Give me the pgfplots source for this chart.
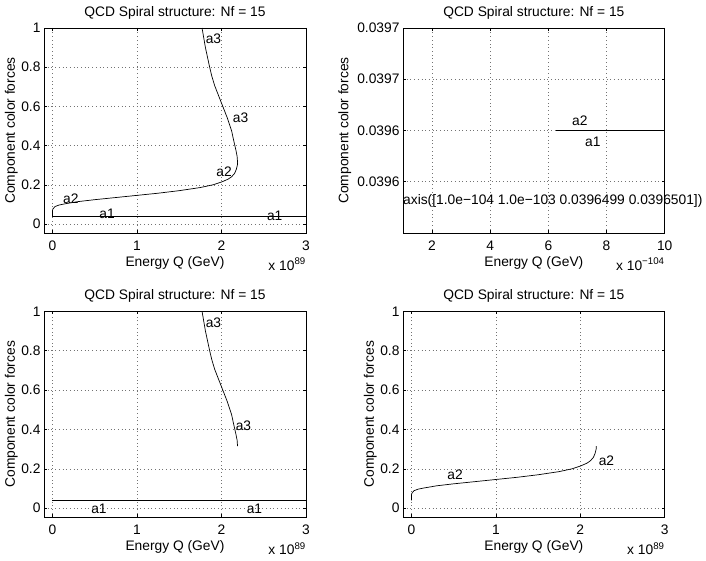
\documentclass[border=0pt]{standalone}
\usepackage{pgfplots}
\pgfplotsset{compat=1.18}
\usepackage{fontspec}
\setmainfont{Liberation Sans}

\newcommand{\fs}{\fontsize{13.8bp}{16bp}\selectfont}
\tikzset{
  scalelabel/.style={font=\fs, anchor=north east, inner sep=0pt, yshift=-25bp},
  crv/.style={black, line width=0.7bp},
}

\pgfplotsset{
  qcd/.style={
    scale only axis,
    width=262bp,
    title={QCD Spiral structure: Nf = 15},
    xlabel={Energy Q (GeV)},
    ylabel={Component color forces},
    every axis title/.style={at={(axis description cs:0.5,1)}, anchor=center, yshift=15bp, font=\fs},
    every axis x label/.style={at={(axis description cs:0.5,0)}, anchor=center, yshift=-30bp, font=\fs},
    every axis y label/.style={at={(axis description cs:-0.125,0.5)}, anchor=center, rotate=90, font=\fs},
    tick label style={font=\fs},
    xticklabel style={yshift=-4bp},
    /pgf/number format/assume math mode=true,
    grid=major,
    major grid style={black!55, line width=0.5bp, dash pattern=on 0.7bp off 3bp},
    axis line style={black, line width=0.8bp},
    tick align=inside,
    major tick length=3bp,
    every tick/.style={black, line width=0.5bp},
    clip=false,
  },
  big/.style={
    qcd,
    xmin=-0.1, xmax=3,
    ymin=-0.046, ymax=1,
    xtick={0,1,2,3},
    ytick={0,0.2,0.4,0.6,0.8,1},
  },
}

% x in units of 1e89 GeV
\newcommand{\aone}{(0,0.0397) (3,0.0397)}
\newcommand{\atwo}{(0,0.0397) (0,0.060) (0.003,0.075) (0.03,0.089) (0.08,0.097)
  (0.15,0.103) (0.3,0.114) (0.5,0.124) (0.75,0.135) (1.0,0.146) (1.25,0.157)
  (1.5,0.170) (1.75,0.186) (1.9,0.200) (2.0,0.214) (2.08,0.229) (2.12,0.241)
  (2.155,0.258) (2.175,0.278) (2.188,0.300) (2.19,0.315)}
\newcommand{\athree}{(2.19,0.315) (2.185,0.345) (2.17,0.378) (2.145,0.425)
  (2.12,0.475) (2.07,0.540) (2.02,0.595) (1.97,0.650) (1.92,0.705) (1.885,0.755)
  (1.86,0.800) (1.835,0.850) (1.81,0.900) (1.79,0.950) (1.77,1.0)}

\begin{document}
\begin{tikzpicture}
\useasboundingbox (0,0) rectangle (706bp,561bp);

% top left: a1, a2, a3
\begin{axis}[big, height=205bp, at={(44bp,328bp)}, anchor=south west]
\addplot[crv] coordinates {\aone};
\addplot[crv] coordinates {\atwo};
\addplot[crv] coordinates {\athree};
\node[font=\fs] at (axis cs:1.905,0.944) {a3};
\node[font=\fs] at (axis cs:2.226,0.541) {a3};
\node[font=\fs] at (axis cs:2.03,0.265) {a2};
\node[font=\fs] at (axis cs:0.218,0.130) {a2};
\node[font=\fs] at (axis cs:0.647,0.050) {a1};
\node[font=\fs] at (axis cs:2.63,0.040) {a1};
\node[scalelabel] at (rel axis cs:1,0) {x 10\textsuperscript{89}};
\end{axis}

% top right: zoomed view; x in units of 1e-104, y = (value - 0.03965) * 1e7
\begin{axis}[qcd, height=205bp, at={(403bp,328bp)}, anchor=south west,
  width=261.7bp,
  xmin=1, xmax=10, ymin=-1, ymax=1,
  xtick={2,4,6,8,10},
  ytick={-0.5,0,0.5,1},
  yticklabels={0.0396,0.0396,0.0397,0.0397},
  every axis y label/.append style={at={(axis description cs:-0.222,0.5)}}]
\addplot[crv] coordinates {(6.27,0) (10,0)};
\addplot[crv] coordinates {(9.14,0) (10,0)};
\node[font=\fs] at (axis cs:7.08,0.091) {a2};
\node[font=\fs] at (axis cs:7.53,-0.114) {a1};
\node[font=\fs, anchor=west, inner sep=0pt] at (axis cs:1,-0.688) {axis([1.0e−104 1.0e−103 0.0396499 0.0396501])};
\node[scalelabel] at (rel axis cs:1,0) {x 10\textsuperscript{−104}};
\end{axis}

% bottom left: a1, a3
\begin{axis}[big, height=206bp, at={(44bp,43.7bp)}, anchor=south west]
\addplot[crv] coordinates {\aone};
\addplot[crv] coordinates {\athree};
\node[font=\fs] at (axis cs:1.905,0.940) {a3};
\node[font=\fs] at (axis cs:2.26,0.417) {a3};
\node[font=\fs] at (axis cs:0.55,-0.005) {a1};
\node[font=\fs] at (axis cs:2.39,-0.005) {a1};
\node[scalelabel] at (rel axis cs:1,0) {x 10\textsuperscript{89}};
\end{axis}

% bottom right: a2
\begin{axis}[big, height=206bp, width=261.7bp, at={(403bp,43.7bp)}, anchor=south west]
\addplot[crv] coordinates {\atwo};
\node[font=\fs] at (axis cs:0.516,0.168) {a2};
\node[font=\fs] at (axis cs:2.31,0.242) {a2};
\node[scalelabel] at (rel axis cs:1,0) {x 10\textsuperscript{89}};
\end{axis}
\end{tikzpicture}
\end{document}
